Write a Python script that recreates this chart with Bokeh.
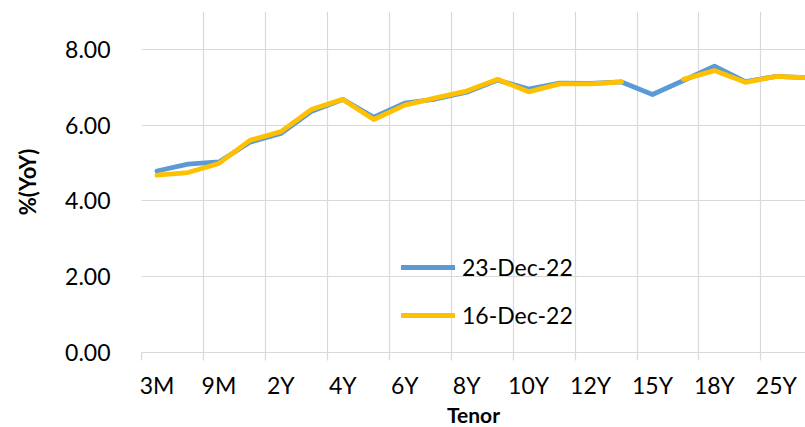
import math
from bokeh.plotting import figure
from bokeh.models import FixedTicker, NumeralTickFormatter, Grid, Range1d, Legend, LegendItem, ColumnDataSource
from bokeh.embed import file_html
from bokeh.resources import INLINE

tenors = ["3M", "6M", "9M", "1Y", "2Y", "3Y", "4Y", "5Y", "6Y", "7Y", "8Y",
          "9Y", "10Y", "11Y", "12Y", "13Y", "15Y", "16Y", "18Y", "20Y", "25Y", "30Y"]
dec23 = [4.79, 4.97, 5.03, 5.55, 5.78, 6.37, 6.68, 6.21, 6.58, 6.69, 6.87,
         7.19, 6.95, 7.11, 7.10, 7.14, 6.81, 7.18, 7.56, 7.15, 7.29, 7.25]
dec16 = [4.68, 4.75, 4.99, 5.60, 5.83, 6.42, 6.68, 6.15, 6.53, 6.72, 6.90,
         7.21, 6.88, 7.09, 7.09, 7.14, float("nan"), 7.21, 7.44, 7.13, 7.29, 7.25]
y_ticks = [0, 2, 4, 6, 8]
series_names = ["23-Dec-22", "16-Dec-22"]

FONT = "Lato"
n = len(tenors)
idx = list(range(n))

p = figure(frame_width=664, frame_height=341, output_backend="svg", toolbar_location=None,
           x_range=Range1d(-0.5, 20.94), y_range=Range1d(0, 9),
           min_border_left=141, min_border_right=0, min_border_top=11, min_border_bottom=40)
p.outline_line_color = None
p.background_fill_color = "white"
p.border_fill_color = "white"

# grids
p.xgrid.visible = False
p.add_layout(Grid(dimension=0, ticker=FixedTicker(ticks=[i - 0.5 for i in range(0, n + 1, 2)]),
                  grid_line_color="#D9D9D9", grid_line_width=1.2))
p.ygrid.ticker = FixedTicker(ticks=y_ticks)
p.ygrid.grid_line_color = "#D9D9D9"
p.ygrid.grid_line_width = 1.2

# x axis
xa = p.xaxis[0]
xa.ticker = FixedTicker(ticks=list(range(0, n, 2)), minor_ticks=[i - 0.5 for i in range(0, n + 1, 2)])
xa.major_label_overrides = {i: tenors[i] for i in range(0, n, 2)}
xa.major_tick_line_color = None
xa.major_tick_out = 0
xa.major_tick_in = 0
xa.minor_tick_line_color = "#D9D9D9"
xa.minor_tick_line_width = 1.2
xa.minor_tick_out = 8
xa.minor_tick_in = 0
xa.axis_line_color = "#D9D9D9"
xa.axis_line_width = 1.2
xa.major_label_standoff = 10
xa.major_label_text_font = FONT
xa.major_label_text_font_size = "23px"
xa.major_label_text_color = "black"
xa.axis_label = "Tenor"
xa.axis_label_text_font = FONT
xa.axis_label_text_font_size = "21px"
xa.axis_label_text_font_style = "bold"
xa.axis_label_text_color = "black"
xa.axis_label_standoff = 0

# y axis
ya = p.yaxis[0]
ya.ticker = FixedTicker(ticks=y_ticks)
ya.formatter = NumeralTickFormatter(format="0.00")
ya.axis_line_color = None
ya.major_tick_line_color = None
ya.minor_tick_line_color = None
ya.major_tick_out = 0
ya.major_label_standoff = 31
ya.major_label_text_font = FONT
ya.major_label_text_font_size = "23px"
ya.major_label_text_color = "black"
ya.axis_label = "%(YoY)"
ya.axis_label_text_font = FONT
ya.axis_label_text_font_size = "22px"
ya.axis_label_text_font_style = "bold"
ya.axis_label_text_color = "black"
ya.axis_label_standoff = 21

src = ColumnDataSource(dict(x=idx, a=dec23, b=dec16))
r1 = p.line("x", "a", source=src, line_color="#5B9BD5", line_width=4.8, line_join="round", line_cap="round")
r2 = p.line("x", "b", source=src, line_color="#FFC000", line_width=4.8, line_join="round", line_cap="round")

legend = Legend(items=[LegendItem(label=series_names[0], renderers=[r1]),
                       LegendItem(label=series_names[1], renderers=[r2])],
                location=(260, 14), orientation="vertical",
                background_fill_alpha=0, border_line_color=None,
                padding=0, margin=0, spacing=2,
                glyph_width=54, glyph_height=46, label_standoff=7,
                label_text_font=FONT, label_text_font_size="23px", label_text_color="black")
p.add_layout(legend, "center")

open("out.html", "w").write(file_html(p, INLINE))
